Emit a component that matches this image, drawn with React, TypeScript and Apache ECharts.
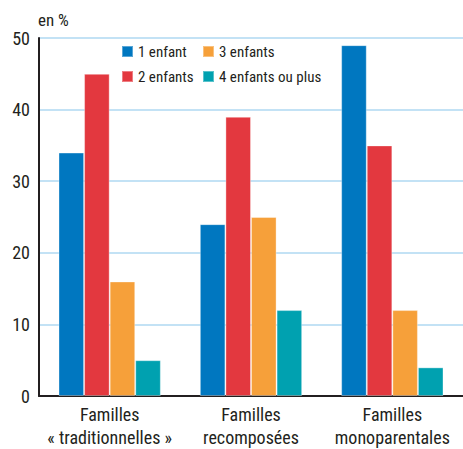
import React, { useEffect, useRef } from "react";
import * as echarts from "echarts";

const categories = ["Familles\n« traditionnelles »", "Familles\nrecomposées", "Familles\nmonoparentales"];
const seriesNames = ["1 enfant", "2 enfants", "3 enfants", "4 enfants ou plus"];
const oneChild = [34, 24, 49];
const twoChildren = [45, 39, 35];
const threeChildren = [16, 25, 12];
const fourPlus = [5, 12, 4];
const colors = ["#0077c0", "#e3383f", "#f6a03a", "#00a1b0"];
const yTicks = { min: 0, max: 50, interval: 10 };

const FONT = "'Liberation Sans Narrow', 'Roboto Condensed', 'Liberation Sans', sans-serif";
const TEXT = "#231f20";

export default function App() {
  const ref = useRef<HTMLDivElement>(null);
  useEffect(() => {
    if (!ref.current) return;
    const chart = echarts.init(ref.current, null, { renderer: "svg" });
    const values = [oneChild, twoChildren, threeChildren, fourPlus];
    const legendBase = {
      orient: "vertical",
      top: 39,
      itemWidth: 11,
      itemHeight: 11,
      itemGap: 10,
      icon: "rect",
      textStyle: { fontFamily: FONT, fontSize: 15, color: TEXT },
    };
    chart.setOption({
      animation: false,
      backgroundColor: "#ffffff",
      textStyle: { fontFamily: FONT },
      grid: { left: 39, right: -3, top: 38, bottom: 49, containLabel: false },
      legend: [
        { ...legendBase, data: [seriesNames[0], seriesNames[1]], left: 116 },
        { ...legendBase, data: [seriesNames[2], seriesNames[3]], left: 197 },
      ],
      xAxis: {
        type: "category",
        data: categories,
        axisLine: { show: true, lineStyle: { color: TEXT, width: 2 } },
        axisTick: { show: false },
        axisLabel: { interval: 0, fontFamily: FONT, fontSize: 18, color: TEXT, lineHeight: 23, margin: 7 },
      },
      yAxis: {
        type: "value",
        min: yTicks.min,
        max: yTicks.max,
        interval: yTicks.interval,
        axisLine: { show: true, lineStyle: { color: TEXT, width: 2 } },
        axisTick: { show: false },
        axisLabel: { fontFamily: FONT, fontSize: 18, color: TEXT, margin: 9 },
        splitLine: { show: true, lineStyle: { color: "#c3e2f5", width: 2 } },
      },
      graphic: [
        {
          type: "text",
          left: 38,
          top: 11,
          style: { text: "en %", fontFamily: FONT, fontSize: 17, fill: TEXT },
        },
      ],
      series: values.map((v, i) => ({
        name: seriesNames[i],
        type: "bar",
        data: v,
        barGap: "0%",
        barCategoryGap: "27.6%",
        itemStyle: { color: colors[i], borderColor: "rgba(255,255,255,0.35)", borderWidth: 1 },
      })),
    });
    return () => chart.dispose();
  }, []);
  return <div ref={ref} style={{ position: "absolute", left: 0, top: 0, width: 463, height: 449 }} />;
}
